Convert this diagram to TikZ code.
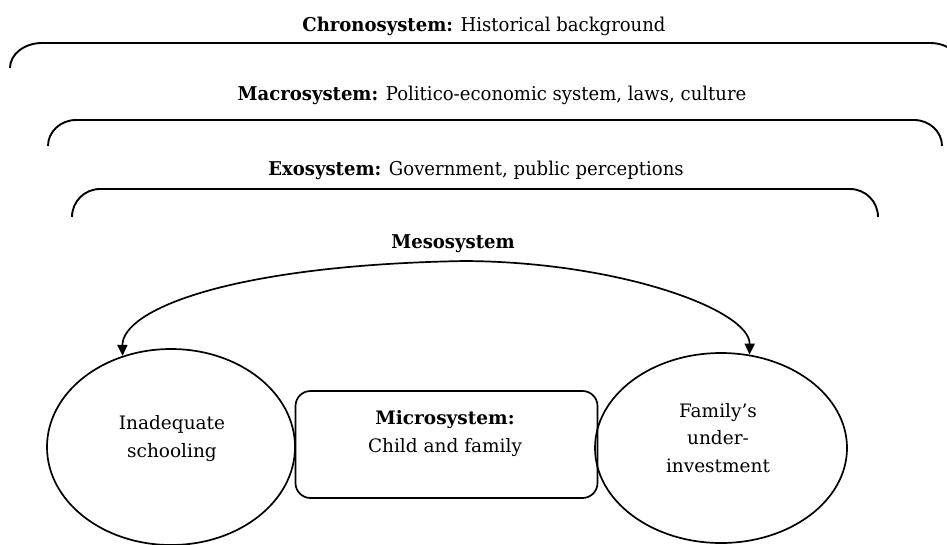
\documentclass[tikz,border=0pt]{standalone}
\usepackage{fontspec}
\setmainfont{DejaVu Serif}
\newfontfamily\toplab[FakeStretch=0.95]{DejaVu Serif}
\usetikzlibrary{shapes.geometric,arrows.meta}
\begin{document}
\begin{tikzpicture}[x=1pt,y=-1pt,
  bracketline/.style={line width=1.9pt},
  syslabel/.style={font=\toplab\fontsize{19}{22}\selectfont, anchor=base, inner sep=0pt},
  bubble/.style={draw, line width=1.7pt, ellipse, inner sep=0pt},
  microbox/.style={draw, line width=1.7pt, rounded corners=15pt, inner sep=0pt},
  bubbletext/.style={font=\fontsize{18.5}{27.5}\selectfont, align=center, inner sep=0pt, anchor=base},
  meso/.style={line width=1.7pt, {Triangle[length=11pt,width=10pt]}-{Triangle[length=11pt,width=10pt]}}
]
\useasboundingbox (0,0) rectangle (947,544);
\clip (0,0) rectangle (947,544);

% system labels
\node[syslabel] (chrono) at (484,31) {\textbf{Chronosystem:} Historical background};
\node[syslabel] (macro) at (492,100) {\textbf{Macrosystem:} Politico-economic system, laws, culture};
\node[syslabel] (exo) at (476,175) {\textbf{Exosystem:} Government, public perceptions};
\node[syslabel] (mesolab) at (453,248) {\textbf{Mesosystem}};

% brackets
\draw[bracketline] (10,68) arc[start angle=180,end angle=270,x radius=32,y radius=25]
  -- (930,43) arc[start angle=270,end angle=360,x radius=32,y radius=25];
\draw[bracketline] (48,146) arc[start angle=180,end angle=270,x radius=28,y radius=26]
  -- (914,120) arc[start angle=270,end angle=360,x radius=28,y radius=26];
\draw[bracketline] (72,217) arc[start angle=180,end angle=270,x radius=28,y radius=28]
  -- (850,189) arc[start angle=270,end angle=360,x radius=28,y radius=28];

% shapes
\node[bubble, minimum width=248pt, minimum height=196pt] (school) at (171,447) {};
\node[bubble, minimum width=252pt, minimum height=190pt] (family) at (721,448) {};
\node[microbox, minimum width=302pt, minimum height=107pt] (micro) at (446.5,444.5) {};

% texts (anchor base = baseline of the last line)
\node[bubbletext] (schooltxt) at (172,457) {Inadequate\\schooling};
\node[bubbletext] (familytxt) at (718,472) {Family’s\\under-\\investment};
\node[bubbletext] (microtxt) at (445,452) {\textbf{Microsystem:}\\Child and family};

% mesosystem arrow
\draw[meso] (school.118) .. controls (122,310) and (230,265) .. (465,261)
  .. controls (620,262) and (750,310) .. (family.73);
\end{tikzpicture}
\end{document}
